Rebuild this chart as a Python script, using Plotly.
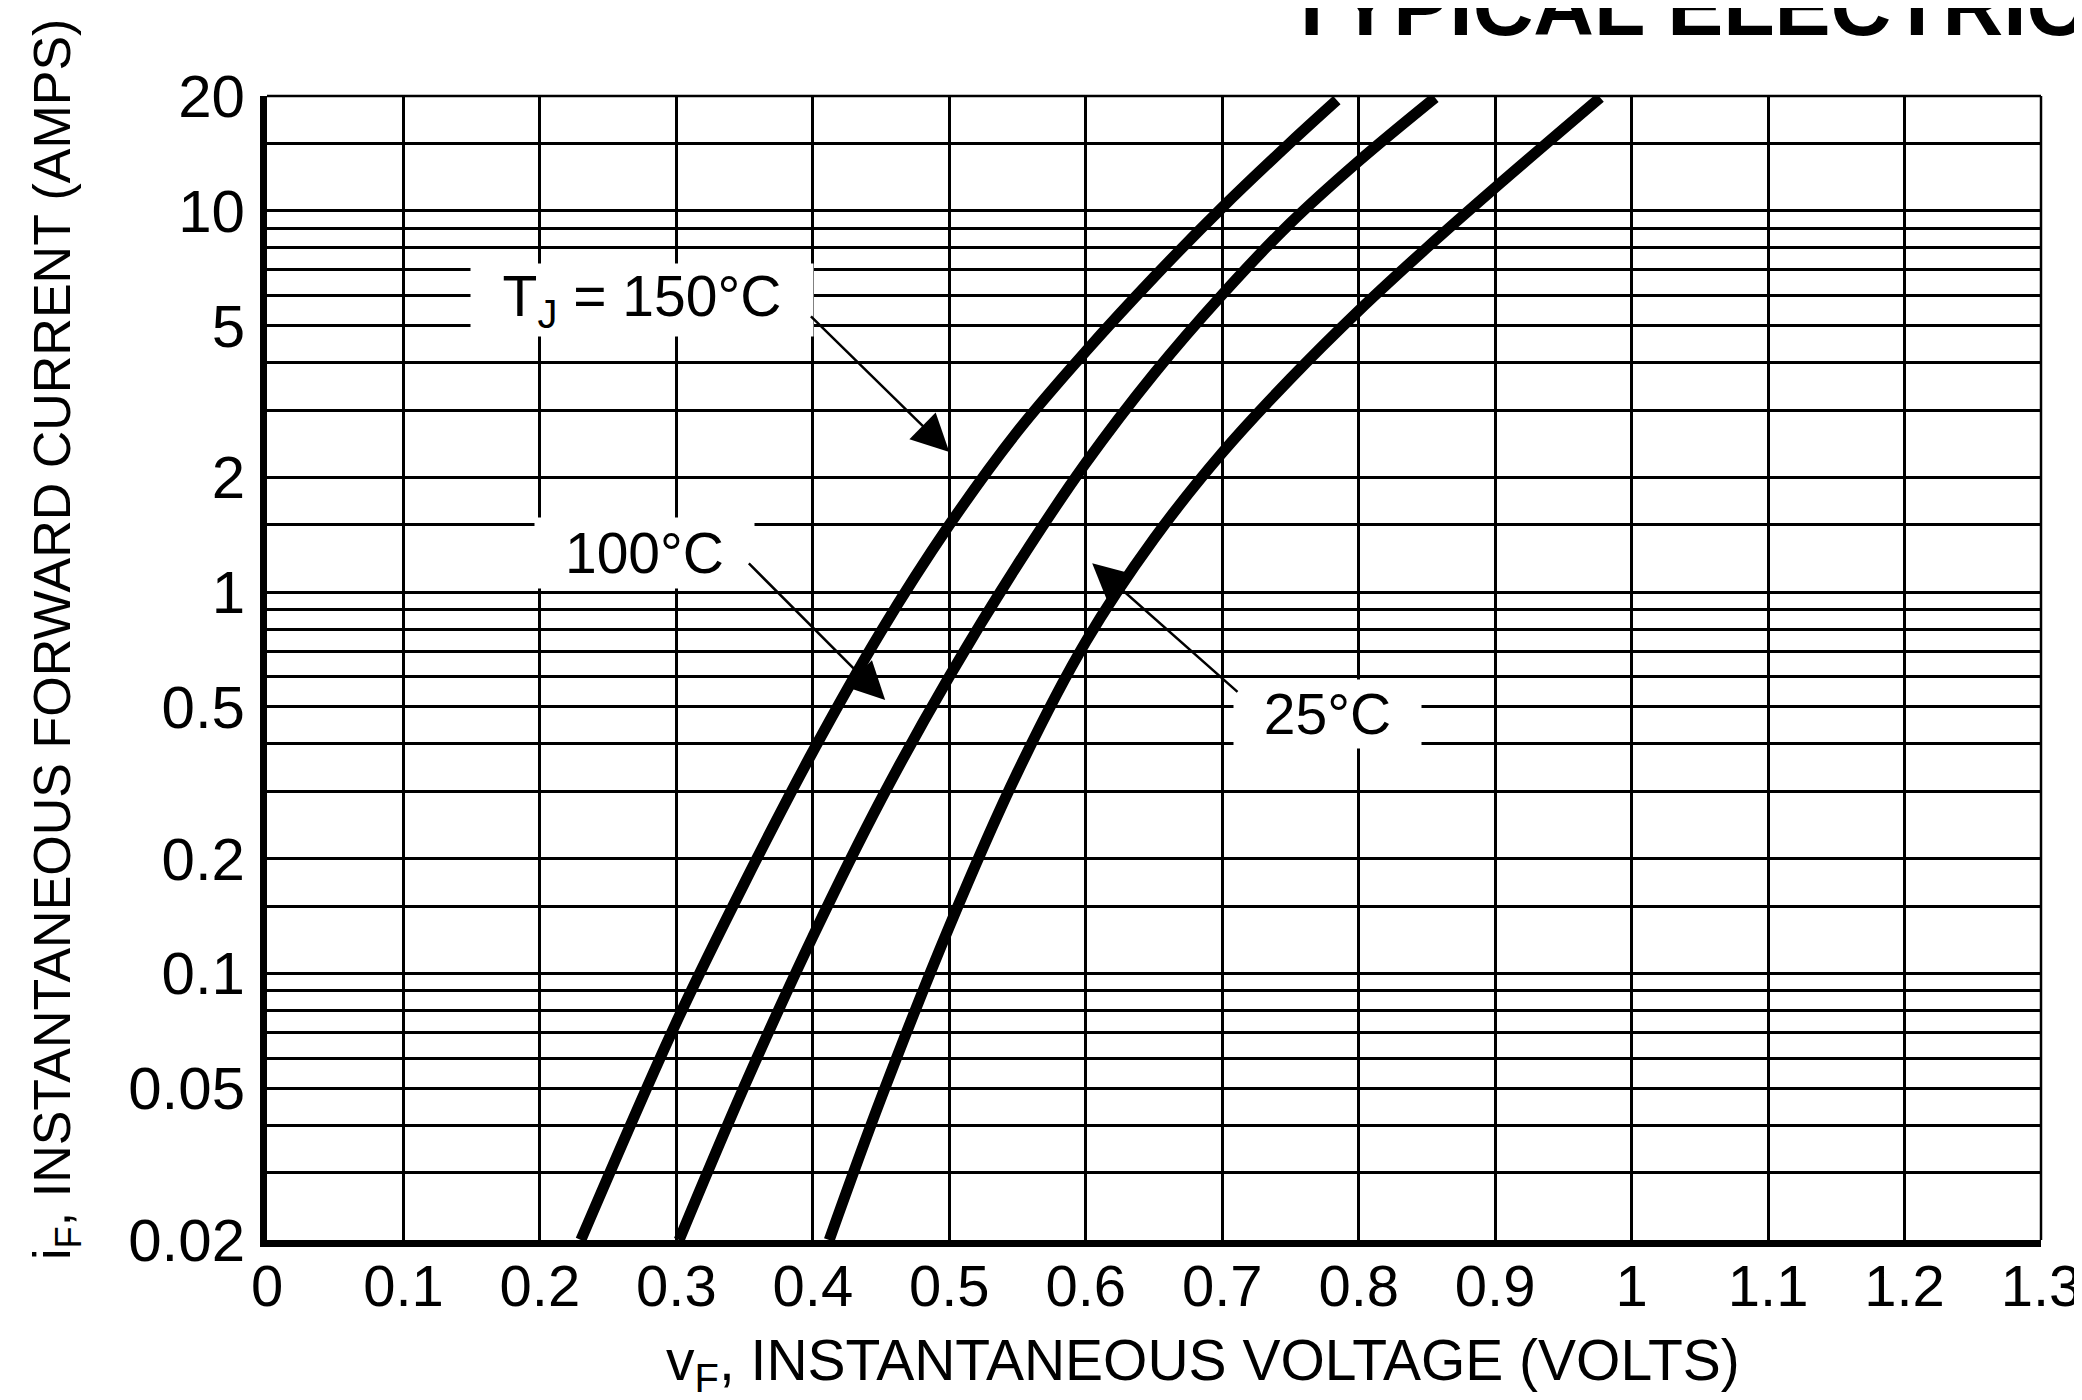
import math
import plotly.graph_objects as go

# ---------------- data ----------------
x_tick_values = [0, 0.1, 0.2, 0.3, 0.4, 0.5, 0.6, 0.7, 0.8, 0.9, 1.0, 1.1, 1.2, 1.3]
x_tick_labels = ["0", "0.1", "0.2", "0.3", "0.4", "0.5", "0.6", "0.7", "0.8", "0.9", "1", "1.1", "1.2", "1.3"]

y_grid_values = [0.02, 0.03, 0.04, 0.05, 0.06, 0.07, 0.08, 0.09, 0.1, 0.15, 0.2, 0.3, 0.4, 0.5,
                 0.6, 0.7, 0.8, 0.9, 1, 1.5, 2, 3, 4, 5, 6, 7, 8, 9, 10, 15, 20]
y_tick_labels = ["0.02", "", "", "0.05", "", "", "", "", "0.1", "", "0.2", "", "", "0.5",
                 "", "", "", "", "1", "", "2", "", "", "5", "", "", "", "", "10", "", "20"]

# T_J = 150 °C
v_150 = [0.230, 0.300, 0.350, 0.400, 0.450, 0.500, 0.550, 0.600, 0.650, 0.700, 0.750, 0.784]
i_150 = [0.020, 0.0745, 0.173, 0.382, 0.789, 1.50, 2.64, 4.28, 6.70, 10.2, 15.1, 19.5]

# T_J = 100 °C
v_100 = [0.302, 0.350, 0.400, 0.450, 0.500, 0.550, 0.600, 0.650, 0.700, 0.750, 0.800, 0.856]
i_100 = [0.020, 0.0508, 0.125, 0.286, 0.601, 1.18, 2.18, 3.74, 6.03, 9.29, 13.5, 19.8]

# T_J = 25 °C
v_25 = [0.412, 0.450, 0.500, 0.550, 0.600, 0.650, 0.700, 0.750, 0.800, 0.850, 0.900, 0.977]
i_25 = [0.020, 0.0471, 0.1327, 0.337, 0.741, 1.38, 2.32, 3.63, 5.47, 8.0, 11.5, 19.8]

# ---------------- figure ----------------
PAGE = 8                      # default body margin of the html page
W, H = 2082 - PAGE, 1400 - PAGE
# plot area in window pixels: x 267..2041, y 96..1240
ML, MR, MT, MB = 267 - PAGE, 41, 96 - PAGE, 160
FONT = "Liberation Sans, Arial, Helvetica, sans-serif"

fig = go.Figure()
for v, i in [(v_150, i_150), (v_100, i_100), (v_25, i_25)]:
    fig.add_trace(go.Scatter(x=v, y=i, mode="lines",
                             line=dict(color="black", width=11, shape="spline", smoothing=1.0),
                             showlegend=False, hoverinfo="skip"))

lg = math.log10

annotations = []
labels = [
    ("T<sub>J</sub> = 150°C", 0.2745, 5.83, 340, 70),
    ("100°C", 0.2767, 1.27, 217, 68),
    ("25°C", 0.7775, 0.479, 185, 66),
]
for txt, xv, yv, w, h in labels:
    annotations.append(dict(text=txt, x=xv, y=lg(yv), xref="x", yref="y", showarrow=False,
                            font=dict(family=FONT, size=57, color="black"),
                            bgcolor="white", width=w, height=h, align="center",
                            xanchor="center", yanchor="middle"))
arrows = [
    (0.3975, 5.33, 0.500, 2.33),
    (0.352, 1.20, 0.453, 0.521),
    (0.7123, 0.543, 0.6047, 1.19),
]
for tv, ti, hv, hi in arrows:
    annotations.append(dict(text="", x=hv, y=lg(hi), xref="x", yref="y",
                            ax=tv, ay=lg(ti), axref="x", ayref="y", showarrow=True,
                            arrowhead=2, arrowsize=3.0, arrowwidth=2.5, arrowcolor="black",
                            standoff=0, startstandoff=0))

pw = W - ML - MR
ph = H - MT - MB
def px_x(p):          # window pixel -> paper x
    return (p - PAGE - ML) / pw
def px_y(p):          # window pixel -> paper y
    return (H - MB - (p - PAGE)) / ph

annotations.append(dict(text="v<sub>F</sub>, INSTANTANEOUS VOLTAGE (VOLTS)",
                        x=px_x(1203), y=px_y(1364), xref="paper", yref="paper",
                        showarrow=False, xanchor="center", yanchor="middle",
                        font=dict(family=FONT, size=57, color="black")))
annotations.append(dict(text="i<sub>F</sub>, INSTANTANEOUS FORWARD CURRENT (AMPS)",
                        x=px_x(56), y=px_y(640), xref="paper", yref="paper", textangle=-90,
                        showarrow=False, xanchor="center", yanchor="middle",
                        font=dict(family=FONT, size=52, color="black")))
annotations.append(dict(text="<b>TYPICAL ELECTRICAL CHARACTERISTICS</b>",
                        x=px_x(1284), y=px_y(55), xref="paper", yref="paper",
                        showarrow=False, xanchor="left", yanchor="bottom",
                        font=dict(family=FONT, size=84, color="black")))

shapes = [
    dict(type="line", xref="paper", yref="paper", x0=0, x1=1, y0=1, y1=1,
         line=dict(color="black", width=2.5)),
    dict(type="line", xref="paper", yref="paper", x0=1, x1=1, y0=0, y1=1,
         line=dict(color="black", width=2.5)),
]

fig.update_layout(
    width=W, height=H,
    margin=dict(l=ML, r=MR, t=MT, b=MB, pad=0, autoexpand=False),
    paper_bgcolor="white", plot_bgcolor="white",
    font=dict(family=FONT, color="black"),
    annotations=annotations,
    shapes=shapes,
    showlegend=False,
)
fig.update_xaxes(range=[0, 1.3], tickvals=x_tick_values, ticktext=x_tick_labels,
                 showgrid=True, gridcolor="black", gridwidth=2.5, zeroline=False,
                 showline=True, linecolor="black", linewidth=7, ticks="", ticklen=0,
                 ticklabelstandoff=-11, tickfont=dict(family=FONT, size=58, color="black"))
fig.update_yaxes(type="log", range=[lg(0.02), lg(20)], tickvals=y_grid_values, ticktext=y_tick_labels,
                 showgrid=True, gridcolor="black", gridwidth=2.5, zeroline=False,
                 showline=True, linecolor="black", linewidth=7, ticks="", ticklen=0,
                 ticklabelstandoff=3, tickfont=dict(family=FONT, size=60, color="black"))

fig.write_html("out.html")
